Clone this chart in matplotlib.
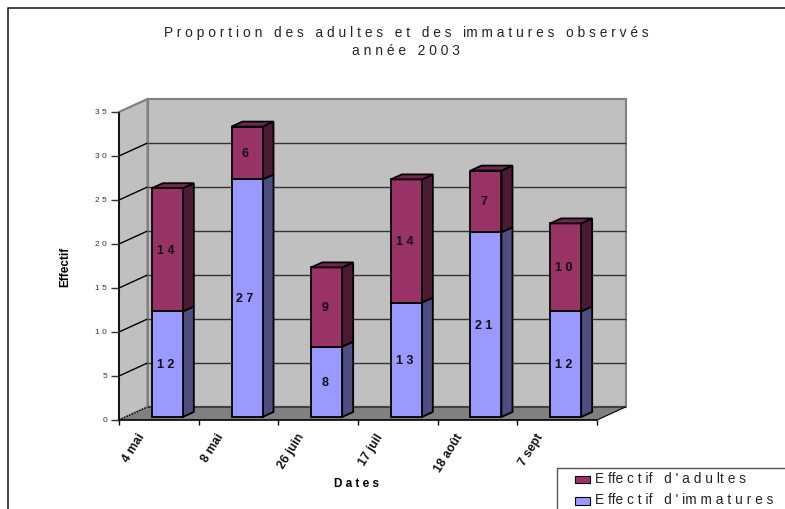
import matplotlib
matplotlib.use('Agg')
import matplotlib.pyplot as plt
from matplotlib.patches import Polygon, Rectangle

plt.rcParams['font.family'] = ['Liberation Sans', 'DejaVu Sans']

dates = ['4 mai', '8 mai', '26 juin', '17 juil', '18 août', '7 sept']
immatures = [12, 27, 8, 13, 21, 12]
adultes = [14, 6, 9, 14, 7, 10]
y_ticks = [0, 5, 10, 15, 20, 25, 30, 35]
y_tick_labels = ['0', '5', '1 0', '1 5', '2 0', '2 5', '3 0', '3 5']

ADULT = '#993366'
ADULT_TOP = '#732650'
ADULT_SIDE = '#4d1a33'
IMM = '#9999ff'
IMM_SIDE = '#4d4d80'

W, H = 785, 510
fig = plt.figure(figsize=(W / 100, H / 100), dpi=100)

# front plane of the fake 3d box, in figure pixels
left, right, bottom, top = 119, 597, 421, 113
ax = fig.add_axes([left / W, 1 - bottom / H, (right - left) / W, (bottom - top) / H])
ax.set_xlim(0, len(dates))
ax.set_ylim(0, 35)
ax.axis('off')

px = len(dates) / (right - left)
py = 35 / (bottom - top)


def poly(points, **kw):
    p = Polygon(points, closed=True, clip_on=False, **kw)
    ax.add_patch(p)
    return p


def seg(xs, ys, color='k', lw=1.0, z=2, **kw):
    ax.plot(xs, ys, color=color, lw=lw, clip_on=False, zorder=z, solid_capstyle='butt', **kw)


# depth of the box and of the bars
dx, dy = 28.5 * px, 13 * py
n = len(dates)

# back wall, side wall, floor
poly([(dx, dy), (n + dx, dy), (n + dx, 35 + dy), (dx, 35 + dy)], fc='#c0c0c0', ec='#808080', lw=1.5, zorder=1)
poly([(0, 0), (dx, dy), (dx, 35 + dy), (0, 35)], fc='#c0c0c0', ec='#808080', lw=1.5, zorder=1)
poly([(0, 0), (n, 0), (n + dx, dy), (dx, dy)], fc='#808080', ec='none', zorder=1.5)

# gridlines run along the side wall then across the back
for t in y_ticks:
    if t > 0 and t < 35:
        seg([dx, n + dx], [t + dy, t + dy], color='#333333', lw=1.0, z=1.8)
    if t > 0:
        seg([0, dx], [t, t + dy], color='k' if t < 35 else '#808080', lw=1.0, z=1.9)
seg([dx, n + dx], [dy, dy], color='#404040', lw=1.5, z=1.8)
seg([0, dx], [0, dy], color='k', lw=1.0, z=1.9, linestyle=(0, (1, 1)))
seg([n, n + dx], [0, dy], color='k', lw=0.8, z=1.9)

# axes
seg([0, 0], [0, 35], lw=1.2, z=2)
seg([0, n], [0, 0], lw=1.2, z=2)
for t, lab in zip(y_ticks, y_tick_labels):
    seg([-8 * px, 0], [t, t], lw=1.0, color='#333333')
    ax.text(-12 * px, t, lab, ha='right', va='center', fontsize=6, color='#333333')
for i in range(n + 1):
    seg([i, i], [0, -5 * py], lw=1.0)

# bars, stacked
bw = 31 * px
ox, oy = 8.5 * px, 3 * py
sx, sy = 11 * px, 5 * py


def box(x, y0, y1, front, side, z):
    poly([(x + bw, y0), (x + bw + sx, y0 + sy), (x + bw + sx, y1 + sy), (x + bw, y1)],
         fc=side, ec='k', lw=1.3, zorder=z)
    ax.add_patch(Rectangle((x, y0), bw, y1 - y0, fc=front, ec='k', lw=1.3, clip_on=False, zorder=z + 0.1))


for i in range(n):
    x = i + 0.5 - bw / 2 + ox
    box(x, oy, immatures[i] + oy, IMM, IMM_SIDE, 3 + i)
    top_y = immatures[i] + adultes[i] + oy
    box(x, immatures[i] + oy, top_y, ADULT, ADULT_SIDE, 3 + i + 0.2)
    poly([(x, top_y), (x + sx, top_y + sy), (x + bw + sx, top_y + sy), (x + bw, top_y)],
         fc=ADULT_TOP, ec='k', lw=1.3, zorder=3 + i + 0.3)
    for val, base in ((immatures[i], 0), (adultes[i], immatures[i])):
        ax.text(x + bw / 2 - 2 * px, base + val / 2 + oy, ' '.join(str(val)), ha='center', va='center',
                fontsize=9, fontweight='bold', color='#111111', zorder=20)

# rotated date labels hang from the category centres
for i, d in enumerate(dates):
    ax.text(i + 0.5 - 17 * px, -14 * py, d, rotation=58, rotation_mode='anchor', ha='right', va='center',
            fontsize=8.8, fontweight='bold', color='#111111')

fig.text(406 / W, 1 - 33 / H, 'P r o p o r t i o n   d e s   a d u l t e s   e t   d e s   im m a t u r e s   o b s e r v é s',
         ha='center', va='center', fontsize=9.9, color='#222222')
fig.text(406 / W, 1 - 51 / H, 'a n n é e   2 0 0 3', ha='center', va='center', fontsize=9.9, color='#222222')
fig.text(65 / W, 1 - 267 / H, 'Effectif', rotation=90, ha='center', va='center', fontsize=8.5, fontweight='bold')
fig.text(357 / W, 1 - 484 / H, 'D a t e s', ha='center', va='center', fontsize=8.5, fontweight='bold')

# chart frame and legend box are cut by the right and bottom edges
frame = fig.add_axes([0, 0, 1, 1], zorder=-1)
frame.set_xlim(0, W)
frame.set_ylim(H, 0)
frame.axis('off')
frame.plot([8, 8, W], [H, 9, 9], color='#222222', lw=1.2)
frame.plot([557, 557, W], [H, 469, 469], color='#555555', lw=1)
frame.add_patch(Rectangle((575, 477), 15, 7, fc=ADULT, ec='k', lw=0.8))
frame.add_patch(Rectangle((575, 498), 15, 7.5, fc=IMM, ec='k', lw=0.8))
frame.text(595, 479.5, "E ffe c t if   d ' a d u lt e s", va='center', fontsize=9.9, color='#222222')
frame.text(595, 500.5, "E ffe c t if   d ' im m a t u r e s", va='center', fontsize=9.9, color='#222222')

fig.savefig('out.png', dpi=100)
